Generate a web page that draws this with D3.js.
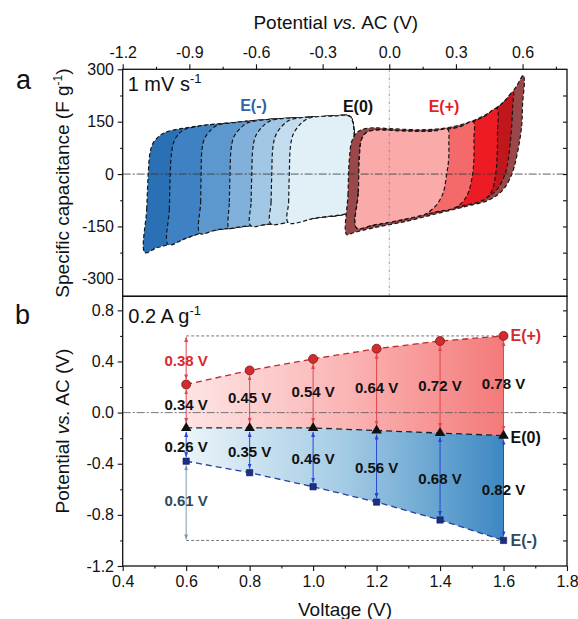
<!DOCTYPE html>
<html><head><meta charset="utf-8">
<script src="https://cdn.jsdelivr.net/npm/d3@7"></script>
<style>body{margin:0;background:#fff}text{font-family:"Liberation Sans",Arial,Helvetica,sans-serif}</style>
</head><body>
<script>
// ---------- DATA ----------
const topTicksX = [-1.2, -0.9, -0.6, -0.3, 0.0, 0.3, 0.6];
const topMinorX = [-1.05, -0.75, -0.45, -0.15, 0.15, 0.45, 0.75];
const topTicksY = [300, 150, 0, -150, -300];
const topMinorY = [225, 75, -75, -225];
const topRightY = [225, 150, 75, 0, -75, -150, -225, -300];
const botTicksX = [0.4, 0.6, 0.8, 1.0, 1.2, 1.4, 1.6, 1.8];
const botMinorX = [0.5, 0.7, 0.9, 1.1, 1.3, 1.5, 1.7];
const botTicksY = [0.8, 0.4, 0.0, -0.4, -0.8, -1.2];
const botMinorY = [0.6, 0.2, -0.2, -0.6, -1.0];
const botRightY = [0.8, 0.6, 0.4, 0.2, 0.0, -0.2, -0.4, -0.6, -0.8, -1.0];

// CV loops of E(-) (blue), [potential V, capacitance F/g]
const blueTop = [[-1.002,121],[-0.93,131],[-0.852,138],[-0.78,143],[-0.702,147],[-0.63,152],[-0.552,156],[-0.48,159],[-0.402,161],[-0.33,164],[-0.252,166],[-0.192,168]];
const blueRight = [[-0.175,164],[-0.163,145],[-0.158,80],[-0.160,0],[-0.165,-80],[-0.175,-105],[-0.192,-113]];
const blueBottom = [[-1.100,-225],[-1.05,-212],[-0.995,-202],[-0.92,-185],[-0.852,-170],[-0.78,-160],[-0.702,-154],[-0.63,-148],[-0.552,-144],[-0.447,-137],[-0.327,-125],[-0.192,-113]];
const blueLeftEdges = [
  [[-1.100,-225],[-1.092,-101],[-1.085,0],[-1.077,61],[-1.062,90],[-1.04,106],[-1.024,114]],
  [[-0.995,-202],[-0.990,-101],[-0.986,0],[-0.980,61],[-0.968,95],[-0.945,117],[-0.92,128]],
  [[-0.852,-170],[-0.849,-80],[-0.847,0],[-0.843,71],[-0.830,104],[-0.80,128],[-0.775,140]],
  [[-0.722,-156],[-0.720,-80],[-0.717,0],[-0.712,72],[-0.700,106],[-0.672,130],[-0.64,146]],
  [[-0.624,-148],[-0.622,-80],[-0.619,0],[-0.614,74],[-0.602,108],[-0.575,133],[-0.54,151]],
  [[-0.534,-142],[-0.532,-80],[-0.529,0],[-0.524,76],[-0.512,110],[-0.485,136],[-0.45,154]],
  [[-0.455,-139],[-0.453,-80],[-0.450,0],[-0.445,78],[-0.433,113],[-0.405,140],[-0.37,158]]
];
const blueColors = ["#2a70b5","#3e82c3","#5c98cd","#81b1da","#a2c7e4","#c3dcee","#e1eff7"];

// CV loops of E(+) (red)
const redOuter = [[-0.192,-173],[-0.186,-60],[-0.180,40],[-0.168,95],[-0.14,122],[-0.087,132],
  [0.003,130],[0.153,127],[0.273,134],[0.378,153],[0.453,177],[0.529,215],[0.574,253],[0.603,283],
  [0.608,268],[0.600,200],[0.596,138],[0.574,52],[0.551,-1],[0.513,-44],[0.453,-73],[0.348,-92],
  [0.228,-111],[0.078,-135],[-0.072,-154],[-0.162,-168]];
const redInnerLeft = [[-0.147,-154],[-0.139,-53],[-0.135,42],[-0.124,100],[-0.102,119],[-0.057,126]];
const redInnerTop = [[0.003,125],[0.08,123],[0.153,122],[0.21,124],[0.263,128],[0.32,136],[0.378,150],[0.43,166],[0.484,188],[0.52,210],[0.558,236]];
const redInnerBottom = [[-0.147,-154],[-0.072,-146],[0.0,-138],[0.078,-128],[0.153,-117],[0.228,-106],[0.29,-97],[0.348,-88],[0.40,-79],[0.453,-68],[0.49,-55]];
const redRightEdges = [
  [[0.558,236],[0.556,200],[0.551,138],[0.536,42],[0.521,0],[0.491,-39],[0.453,-62]],
  [[0.484,188],[0.487,120],[0.486,60],[0.479,0],[0.461,-49],[0.43,-72],[0.38,-84]],
  [[0.378,150],[0.381,100],[0.381,42],[0.375,0],[0.356,-53],[0.33,-80],[0.29,-98]],
  [[0.263,128],[0.268,90],[0.267,40],[0.258,-1],[0.243,-53],[0.213,-88],[0.17,-112]]
];
const redOuterColor = "#9a4749";
const redColors = ["#c0161c","#ed1c24","#f46a6a","#f9aaa9"];

// Panel b
const voltages = [0.6, 0.8, 1.0, 1.2, 1.4, 1.6];
const ePlus  = [0.22, 0.33, 0.42, 0.50, 0.56, 0.60];
const eZero  = [-0.12, -0.12, -0.12, -0.14, -0.16, -0.18];
const eMinus = [-0.38, -0.47, -0.58, -0.70, -0.84, -1.00];
const posLabels = ["0.34 V","0.45 V","0.54 V","0.64 V","0.72 V","0.78 V"];
const negLabels = ["0.26 V","0.35 V","0.46 V","0.56 V","0.68 V","0.82 V"];
const refTop = 0.60, refBottom = -1.00;
const refTopLabel = "0.38 V", refBottomLabel = "0.61 V";

// ---------- DRAW ----------
const W = 578, H = 619;
const svg = d3.select("body").append("svg").attr("width", W).attr("height", H);
const L = 122.7, R = 567, T1 = 69.3, B1 = 296.3, B2 = 566;
const xTop = d3.scaleLinear().domain([-1.2, 0.8]).range([L, R]);
const yTop = d3.scaleLinear().domain([-350, 300]).range([B1, T1]);
const xBot = d3.scaleLinear().domain([0.4, 1.8]).range([L, R]);
const yBot = d3.scaleLinear().domain([-1.2, 0.91]).range([B2, B1]);

const defs = svg.append("defs");
defs.append("clipPath").attr("id","clipTop").append("rect").attr("x",L).attr("y",T1).attr("width",R-L).attr("height",B1-T1);

// --- panel a: loops
const cvLine = d3.line().x(d => xTop(d[0])).y(d => yTop(d[1])).curve(d3.curveCatmullRomClosed.alpha(0.5));
const gA = svg.append("g").attr("clip-path","url(#clipTop)");
function drawLoop(pts, color) {
  gA.append("path").attr("d", cvLine(pts)).attr("fill", color)
    .attr("stroke", "#161616").attr("stroke-width", 1.2).attr("stroke-dasharray", "4,2.5");
}
blueLeftEdges.forEach((edge, i) => {
  const lastV = edge[edge.length-1][0], firstV = edge[0][0];
  const endV = blueRight[blueRight.length-1][0];
  const top = blueTop.filter(p => p[0] > lastV + 0.01);
  const bottom = blueBottom.filter(p => p[0] > firstV + 0.01 && p[0] < endV - 0.001).reverse();
  drawLoop([...edge, ...top, ...blueRight, ...bottom], blueColors[i]);
});
drawLoop(redOuter, redOuterColor);
redRightEdges.forEach((edge, i) => {
  const leftLast = redInnerLeft[redInnerLeft.length-1][0], leftFirst = redInnerLeft[0][0];
  const top = redInnerTop.filter(p => p[0] > leftLast + 0.01 && p[0] < edge[0][0] - 0.01);
  const bottom = redInnerBottom.filter(p => p[0] > leftFirst + 0.001 && p[0] < edge[edge.length-1][0] - 0.01).reverse();
  drawLoop([...redInnerLeft, ...top, ...edge, ...bottom], redColors[i]);
});
// reference lines
svg.append("line").attr("x1",L).attr("x2",R).attr("y1",yTop(0)).attr("y2",yTop(0))
  .attr("stroke","#333").attr("stroke-width",0.8).attr("stroke-dasharray","8,2,2,2");
svg.append("line").attr("x1",xTop(0)).attr("x2",xTop(0)).attr("y1",T1).attr("y2",B1)
  .attr("stroke","#8a8a8a").attr("stroke-width",0.8).attr("stroke-dasharray","3,2,1,2");

// --- panel b
const gradR = defs.append("linearGradient").attr("id","gR").attr("gradientUnits","userSpaceOnUse")
  .attr("x1",xBot(0.6)).attr("x2",xBot(1.6)).attr("y1",0).attr("y2",0);
gradR.append("stop").attr("offset","0%").attr("stop-color","#fde4e4");
gradR.append("stop").attr("offset","50%").attr("stop-color","#fbb5b5");
gradR.append("stop").attr("offset","100%").attr("stop-color","#f47a7a");
const gradB = defs.append("linearGradient").attr("id","gB").attr("gradientUnits","userSpaceOnUse")
  .attr("x1",xBot(0.6)).attr("x2",xBot(1.6)).attr("y1",0).attr("y2",0);
gradB.append("stop").attr("offset","0%").attr("stop-color","#eaf4fa");
gradB.append("stop").attr("offset","50%").attr("stop-color","#a3cbe4");
gradB.append("stop").attr("offset","100%").attr("stop-color","#3c88c3");

const pPlus = voltages.map((v,i)=>[v,ePlus[i]]);
const pZero = voltages.map((v,i)=>[v,eZero[i]]);
const pMinus = voltages.map((v,i)=>[v,eMinus[i]]);
const bl = d3.line().x(d=>xBot(d[0])).y(d=>yBot(d[1]));
svg.append("path").attr("d", bl([...pPlus, ...pZero.slice().reverse()]) + "Z").attr("fill","url(#gR)");
svg.append("path").attr("d", bl([...pZero, ...pMinus.slice().reverse()]) + "Z").attr("fill","url(#gB)");

// gray reference dashed lines
[refTop, refBottom].forEach(v => {
  svg.append("line").attr("x1",xBot(voltages[0])).attr("x2",xBot(voltages[voltages.length-1]))
    .attr("y1",yBot(v)).attr("y2",yBot(v)).attr("stroke","#777").attr("stroke-width",1).attr("stroke-dasharray","3,2");
});
svg.append("line").attr("x1",L).attr("x2",R).attr("y1",yBot(0)).attr("y2",yBot(0))
  .attr("stroke","#555").attr("stroke-width",0.8).attr("stroke-dasharray","8,2,2,2");

svg.append("path").attr("d", bl(pPlus)).attr("fill","none").attr("stroke","#c0282d").attr("stroke-width",1.3).attr("stroke-dasharray","6,4");
svg.append("path").attr("d", bl(pZero)).attr("fill","none").attr("stroke","#222").attr("stroke-width",1.3).attr("stroke-dasharray","6,4");
svg.append("path").attr("d", bl(pMinus)).attr("fill","none").attr("stroke","#2a3f9e").attr("stroke-width",1.3).attr("stroke-dasharray","6,4");

// arrow markers
function mk(id, color) {
  defs.append("marker").attr("id", id).attr("viewBox","0 0 5 4").attr("refX",5).attr("refY",2)
    .attr("markerWidth",5).attr("markerHeight",4).attr("markerUnits","userSpaceOnUse")
    .attr("orient","auto-start-reverse").append("path").attr("d","M0,0L5,2L0,4Z").attr("fill",color);
}
mk("aR","#e0474c"); mk("aB","#2845d6"); mk("aS","#7d98ab");
function arrow(x, y1, y2, color, id) {
  svg.append("line").attr("x1",x).attr("x2",x).attr("y1",y1).attr("y2",y2)
    .attr("stroke",color).attr("stroke-width",1)
    .attr("marker-start",`url(#${id})`).attr("marker-end",`url(#${id})`);
}
voltages.forEach((v,i) => {
  const x = xBot(v);
  arrow(x, yBot(ePlus[i]) + 5, yBot(eZero[i]) - 5, "#e0474c", "aR");
  arrow(x, yBot(eZero[i]) + 4, yBot(eMinus[i]) - 4, "#2845d6", "aB");
});
arrow(xBot(voltages[0]), yBot(refTop) + 1, yBot(ePlus[0]) - 5, "#e0474c", "aR");
arrow(xBot(voltages[0]), yBot(eMinus[0]) + 4, yBot(refBottom) - 1, "#7d98ab", "aS");

// markers
svg.selectAll(".cp").data(pPlus).join("circle").attr("cx",d=>xBot(d[0])).attr("cy",d=>yBot(d[1])).attr("r",4.5)
  .attr("fill","#d32a2e").attr("stroke","#7a1515").attr("stroke-width",0.8);
svg.selectAll(".tz").data(pZero).join("path").attr("d", d3.symbol(d3.symbolTriangle, 48))
  .attr("transform", d=>`translate(${xBot(d[0])},${yBot(d[1])})`).attr("fill","#111");
svg.selectAll(".sq").data(pMinus).join("path").attr("d", d3.symbol(d3.symbolSquare, 40))
  .attr("transform", d=>`translate(${xBot(d[0])},${yBot(d[1])})`).attr("fill","#1c2e86").attr("stroke","#0d1a55").attr("stroke-width",0.6);

// value labels
function vlabel(x, y, txt, color) {
  svg.append("text").attr("x",x).attr("y",y).attr("text-anchor","middle").attr("dominant-baseline","central")
    .attr("font-size",15).attr("font-weight","bold").attr("fill",color).text(txt);
}
voltages.forEach((v,i) => {
  const x = xBot(v);
  vlabel(x, yBot((ePlus[i]+eZero[i])/2) - 2, posLabels[i], "#111");
  vlabel(x, yBot((eZero[i]+eMinus[i])/2) + 1.5, negLabels[i], "#111");
});
vlabel(xBot(voltages[0]), yBot((refTop+ePlus[0])/2), refTopLabel, "#d62a2e");
vlabel(xBot(voltages[0]), yBot((eMinus[0]+refBottom)/2), refBottomLabel, "#2f4a5e");

const last = voltages.length - 1;
function sideLabel(y, txt, color) {
  svg.append("text").attr("x", xBot(voltages[last]) + 7).attr("y", y).attr("dominant-baseline","central")
    .attr("font-size",16).attr("font-weight","bold").attr("fill",color).text(txt);
}
sideLabel(yBot(ePlus[last]), "E(+)", "#d62a2e");
sideLabel(yBot(eZero[last]) + 1.5, "E(0)", "#111");
sideLabel(yBot(eMinus[last]), "E(-)", "#2f4a5e");

// ---------- AXES ----------
function styleAxis(g) {
  g.select(".domain").remove();
  g.selectAll("line").attr("stroke","#111").attr("stroke-width",1.1);
  g.selectAll("text").attr("font-size",16).attr("fill","#111").attr("font-family",'"Liberation Sans",Arial,sans-serif');
}
const f1 = d => d.toFixed(1);
svg.append("g").attr("transform",`translate(0,${T1})`).call(d3.axisTop(xTop).tickValues(topTicksX).tickSize(5).tickPadding(6.5).tickFormat(f1)).call(styleAxis);
svg.append("g").attr("transform",`translate(0,${T1})`).call(d3.axisTop(xTop).tickValues(topMinorX).tickSize(2.5).tickFormat("")).call(styleAxis);
svg.append("g").attr("transform",`translate(${L},0)`).call(d3.axisLeft(yTop).tickValues(topTicksY).tickSize(5).tickPadding(3.7).tickFormat(d=>String(d))).call(styleAxis);
svg.append("g").attr("transform",`translate(${L},0)`).call(d3.axisLeft(yTop).tickValues(topMinorY).tickSize(2.5).tickFormat("")).call(styleAxis);
svg.append("g").attr("transform",`translate(${R},0)`).call(d3.axisRight(yTop).tickValues(topRightY).tickSize(-4).tickFormat("")).call(styleAxis);

svg.append("g").attr("transform",`translate(0,${B2})`).call(d3.axisBottom(xBot).tickValues(botTicksX).tickSize(5).tickPadding(5).tickFormat(f1)).call(styleAxis);
svg.append("g").attr("transform",`translate(0,${B2})`).call(d3.axisBottom(xBot).tickValues(botMinorX).tickSize(2.5).tickFormat("")).call(styleAxis);
svg.append("g").attr("transform",`translate(${L},0)`).call(d3.axisLeft(yBot).tickValues(botTicksY).tickSize(5).tickPadding(3.7).tickFormat(f1)).call(styleAxis);
svg.append("g").attr("transform",`translate(${L},0)`).call(d3.axisLeft(yBot).tickValues(botMinorY).tickSize(2.5).tickFormat("")).call(styleAxis);
svg.append("g").attr("transform",`translate(${R},0)`).call(d3.axisRight(yBot).tickValues(botRightY).tickSize(-4).tickFormat("")).call(styleAxis);

// frames
svg.append("rect").attr("x",L).attr("y",T1).attr("width",R-L).attr("height",B1-T1).attr("fill","none").attr("stroke","#111").attr("stroke-width",1.3);
svg.append("rect").attr("x",L).attr("y",B1).attr("width",R-L).attr("height",B2-B1).attr("fill","none").attr("stroke","#111").attr("stroke-width",1.3);

// ---------- TEXT ----------
const t1 = svg.append("text").attr("x",335.8).attr("y",29.3).attr("text-anchor","middle").attr("font-size",19).attr("fill","#111");
t1.append("tspan").text("Potential ");
t1.append("tspan").attr("font-style","italic").text("vs.");
t1.append("tspan").text(" AC (V)");
svg.append("text").attr("x",345).attr("y",616).attr("text-anchor","middle").attr("font-size",19).attr("fill","#111").text("Voltage (V)");

const yl1 = svg.append("text").attr("transform","translate(69,183) rotate(-90)").attr("text-anchor","middle").attr("font-size",19).attr("fill","#111");
yl1.append("tspan").text("Specific capacitance (F g");
yl1.append("tspan").attr("font-size",12).attr("dy",-7).text("-1");
yl1.append("tspan").attr("dy",7).text(")");
const yl2 = svg.append("text").attr("transform","translate(69,431) rotate(-90)").attr("text-anchor","middle").attr("font-size",19).attr("fill","#111");
yl2.append("tspan").text("Potential ");
yl2.append("tspan").attr("font-style","italic").text("vs.");
yl2.append("tspan").text(" AC (V)");

svg.append("text").attr("x",16).attr("y",88.5).attr("font-size",27).attr("fill","#111").text("a");
svg.append("text").attr("x",15).attr("y",324).attr("font-size",27).attr("fill","#111").text("b");

const c1 = svg.append("text").attr("x",127.7).attr("y",91).attr("font-size",20).attr("fill","#111");
c1.append("tspan").text("1 mV s");
c1.append("tspan").attr("font-size",13).attr("dy",-8).text("-1");
const c2 = svg.append("text").attr("x",128.3).attr("y",323).attr("font-size",20).attr("fill","#111");
c2.append("tspan").text("0.2 A g");
c2.append("tspan").attr("font-size",13).attr("dy",-8).text("-1");

svg.append("text").attr("x",253.5).attr("y",111).attr("text-anchor","middle").attr("font-size",16).attr("font-weight","bold").attr("fill","#2e64a8").text("E(-)");
svg.append("text").attr("x",358).attr("y",112).attr("text-anchor","middle").attr("font-size",16).attr("font-weight","bold").attr("fill","#111").text("E(0)");
svg.append("text").attr("x",444).attr("y",112).attr("text-anchor","middle").attr("font-size",16).attr("font-weight","bold").attr("fill","#e31e24").text("E(+)");
</script>
</body></html>
